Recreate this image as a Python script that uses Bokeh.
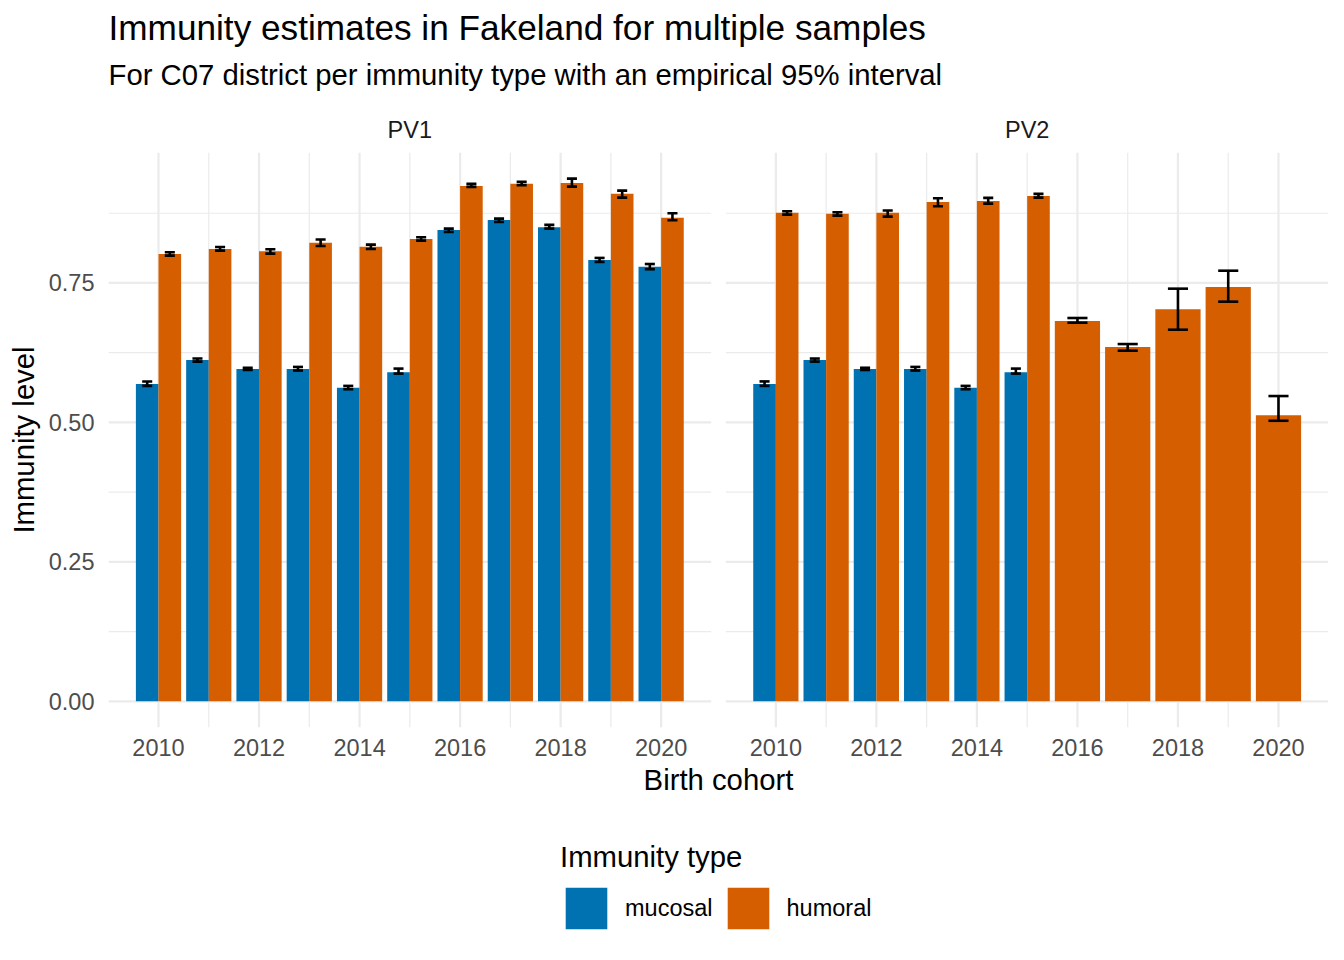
from bokeh.plotting import figure
from bokeh.layouts import column
from bokeh.models import (Range1d, FixedTicker, CustomJSTickFormatter, PrintfTickFormatter,
                          ColumnDataSource, Label, Legend, LegendItem)
from bokeh.embed import file_html
from bokeh.resources import INLINE

# ---------------- data ----------------
years = [2010, 2011, 2012, 2013, 2014, 2015, 2016, 2017, 2018, 2019, 2020]
panels = ["PV1", "PV2"]
types = ["mucosal", "humoral"]

pv1_mucosal    = [0.569, 0.612, 0.596, 0.596, 0.562, 0.590, 0.845, 0.863, 0.850, 0.791, 0.779]
pv1_mucosal_lo = [0.5655, 0.609, 0.594, 0.593, 0.5595, 0.5875, 0.8415, 0.8594, 0.8475, 0.7877, 0.7746]
pv1_mucosal_hi = [0.5735, 0.6145, 0.598, 0.5995, 0.5655, 0.5965, 0.8475, 0.8654, 0.8541, 0.7949, 0.784]

pv1_humoral    = [0.802, 0.811, 0.807, 0.822, 0.815, 0.829, 0.924, 0.928, 0.929, 0.910, 0.867]
pv1_humoral_lo = [0.799, 0.808, 0.8026, 0.8164, 0.811, 0.826, 0.9222, 0.9253, 0.9228, 0.903, 0.8625]
pv1_humoral_hi = [0.8051, 0.8146, 0.8104, 0.828, 0.8188, 0.832, 0.9276, 0.9312, 0.937, 0.9156, 0.875]

pv2_mucosal    = [0.569, 0.612, 0.596, 0.596, 0.562, 0.590, None, None, None, None, None]
pv2_mucosal_lo = [0.5655, 0.609, 0.594, 0.593, 0.5595, 0.5875, None, None, None, None, None]
pv2_mucosal_hi = [0.5735, 0.6145, 0.598, 0.5995, 0.5655, 0.5965, None, None, None, None, None]

pv2_humoral    = [0.876, 0.874, 0.876, 0.895, 0.897, 0.906, 0.682, 0.635, 0.703, 0.743, 0.513]
pv2_humoral_lo = [0.8726, 0.8708, 0.869, 0.8876, 0.8923, 0.903, 0.6788, 0.6286, 0.6662, 0.7165, 0.503]
pv2_humoral_hi = [0.8786, 0.8768, 0.880, 0.902, 0.9025, 0.9097, 0.6872, 0.6405, 0.7398, 0.772, 0.5473]

x_major = [2010, 2012, 2014, 2016, 2018, 2020]
x_minor = [2011, 2013, 2015, 2017, 2019]
y_major = [0.0, 0.25, 0.5, 0.75]
y_minor = [0.125, 0.375, 0.625, 0.875]

title_text = "Immunity estimates in Fakeland for multiple samples"
subtitle_text = "For C07 district per immunity type with an empirical 95% interval"
x_label = "Birth cohort"
y_label = "Immunity level"
legend_title = "Immunity type"

colors = {"mucosal": "#0072B2", "humoral": "#D55E00"}

series = {
    ("PV1", "mucosal"): (pv1_mucosal, pv1_mucosal_lo, pv1_mucosal_hi),
    ("PV1", "humoral"): (pv1_humoral, pv1_humoral_lo, pv1_humoral_hi),
    ("PV2", "mucosal"): (pv2_mucosal, pv2_mucosal_lo, pv2_mucosal_hi),
    ("PV2", "humoral"): (pv2_humoral, pv2_humoral_lo, pv2_humoral_hi),
}

# ---------------- geometry ----------------
FONT = "Liberation Sans"
W = 1328
LEFT, RIGHT = 108, 0
X0, X1 = 2009.005, 2020.995          # facet limits (years)
PANEL_GAP = 0.2923                   # gap between facets, in years
OFF = (X1 - X0) + PANEL_GAP          # x offset of the second facet
Y0, Y1 = -0.0469, 0.9839
BAR_W = 0.9
CAP_W = 0.4
HEADER_H, MAIN_H, FOOTER_H = 152, 655, 130

x_range = Range1d(X0, X1 + OFF)


def bare(fig):
    fig.outline_line_color = None
    fig.background_fill_color = "white"
    fig.border_fill_color = "white"
    return fig


# ---------------- header: title, subtitle, facet strips ----------------
head = bare(figure(width=W, height=HEADER_H, output_backend="svg", toolbar_location=None,
                   x_range=x_range, y_range=Range1d(HEADER_H, 0),
                   x_axis_location=None, y_axis_location=None,
                   min_border_left=LEFT, min_border_right=RIGHT,
                   min_border_top=0, min_border_bottom=0, title=None))
head.grid.visible = False
head.add_layout(Label(x=X0, y=27.3, text=title_text, text_font=FONT,
                      text_font_size="35.2px", text_color="black",
                      text_align="left", text_baseline="alphabetic"))
head.add_layout(Label(x=X0, y=74.0, text=subtitle_text, text_font=FONT,
                      text_font_size="29.3px", text_color="black",
                      text_align="left", text_baseline="alphabetic"))
for pi, panel in enumerate(panels):
    head.add_layout(Label(x=(X0 + X1) / 2 + pi * OFF, y=129.3, text=panel, text_font=FONT,
                          text_font_size="23.5px", text_color="#1A1A1A",
                          text_align="center", text_baseline="alphabetic"))

# ---------------- main: the two facets ----------------
p = bare(figure(width=W, height=MAIN_H, output_backend="svg", toolbar_location=None,
                x_range=x_range, y_range=Range1d(Y0, Y1),
                min_border_left=LEFT, min_border_right=RIGHT,
                min_border_top=0, min_border_bottom=80, title=None))
p.xgrid.visible = False
p.ygrid.visible = False

GRID = "#EBEBEB"
for pi in range(len(panels)):
    off = pi * OFF
    for vals, lw in ((x_minor, 1.2), (x_major, 2.2)):
        p.segment(x0=[v + off for v in vals], x1=[v + off for v in vals],
                  y0=[Y0] * len(vals), y1=[Y1] * len(vals), line_color=GRID, line_width=lw)
    for vals, lw in ((y_minor, 1.2), (y_major, 2.2)):
        p.segment(x0=[X0 + off] * len(vals), x1=[X1 + off] * len(vals),
                  y0=vals, y1=vals, line_color=GRID, line_width=lw)

bars = {t: dict(x=[], top=[], width=[]) for t in types}
err = dict(x0=[], y0=[], x1=[], y1=[])
for pi, panel in enumerate(panels):
    for i, yr in enumerate(years):
        present = [t for t in types if series[(panel, t)][0][i] is not None]
        n = len(present)
        for k, t in enumerate(present):
            val, lo, hi = (arr[i] for arr in series[(panel, t)])
            w = BAR_W / n
            cx = yr + pi * OFF - BAR_W / 2 + w * (k + 0.5)
            bars[t]["x"].append(cx)
            bars[t]["top"].append(val)
            bars[t]["width"].append(w)
            cw = CAP_W / n
            err["x0"] += [cx, cx - cw / 2, cx - cw / 2]
            err["x1"] += [cx, cx + cw / 2, cx + cw / 2]
            err["y0"] += [lo, lo, hi]
            err["y1"] += [hi, lo, hi]

bar_sources = {t: ColumnDataSource(bars[t]) for t in types}
for t in types:
    p.vbar(x="x", top="top", width="width", bottom=0, source=bar_sources[t],
           fill_color=colors[t], line_color=None)
p.segment(x0="x0", y0="y0", x1="x1", y1="y1", source=ColumnDataSource(err),
          line_color="black", line_width=2.6)

p.xaxis.ticker = FixedTicker(ticks=x_major + [v + OFF for v in x_major], minor_ticks=[])
p.xaxis.formatter = CustomJSTickFormatter(args=dict(off=OFF), code="""
    const v = tick > 2021.5 ? tick - off : tick;
    return Math.round(v).toString();
""")
p.yaxis.ticker = FixedTicker(ticks=y_major, minor_ticks=[])
p.yaxis.formatter = PrintfTickFormatter(format="%.2f")

for ax in (p.xaxis[0], p.yaxis[0]):
    ax.axis_line_color = None
    ax.major_tick_line_color = None
    ax.minor_tick_line_color = None
    ax.major_tick_out = 0
    ax.major_tick_in = 0
    ax.major_label_text_font = FONT
    ax.major_label_text_font_size = "23.5px"
    ax.major_label_text_color = "#4D4D4D"
    ax.axis_label_text_font = FONT
    ax.axis_label_text_font_size = "29.3px"
    ax.axis_label_text_font_style = "normal"
    ax.axis_label_text_color = "black"

p.xaxis.axis_label = x_label
p.xaxis.major_label_standoff = 11
p.xaxis.axis_label_standoff = 4
p.yaxis.axis_label = y_label
p.yaxis.major_label_standoff = 14
p.yaxis.axis_label_standoff = 6

# ---------------- footer: legend ----------------
# the key glyphs reuse the bar sources; this strip's ranges keep those bars out of view
foot = bare(figure(width=W, height=FOOTER_H, output_backend="svg", toolbar_location=None,
                   x_range=Range1d(5000, 5001), y_range=Range1d(10, 11),
                   x_axis_location=None, y_axis_location=None,
                   min_border_left=LEFT, min_border_right=RIGHT,
                   min_border_top=0, min_border_bottom=0, title=None))
foot.grid.visible = False
keys = [foot.vbar(x="x", top="top", width="width", bottom=0, source=bar_sources[t],
                  fill_color=colors[t], line_color=None) for t in types]
legend = Legend(items=[LegendItem(label=t, renderers=[r]) for t, r in zip(types, keys)],
                orientation="horizontal", location=(452, 3),
                title=legend_title, title_text_font=FONT, title_text_font_size="29.3px",
                title_text_font_style="normal", title_text_color="black", title_standoff=8,
                label_text_font=FONT, label_text_font_size="23.5px", label_text_color="black",
                glyph_width=52, glyph_height=52, label_standoff=13, spacing=9,
                padding=0, margin=0, border_line_color=None, background_fill_alpha=0)
foot.add_layout(legend)

layout = column(head, p, foot, spacing=0)
open("out.html", "w").write(file_html(layout, INLINE))
